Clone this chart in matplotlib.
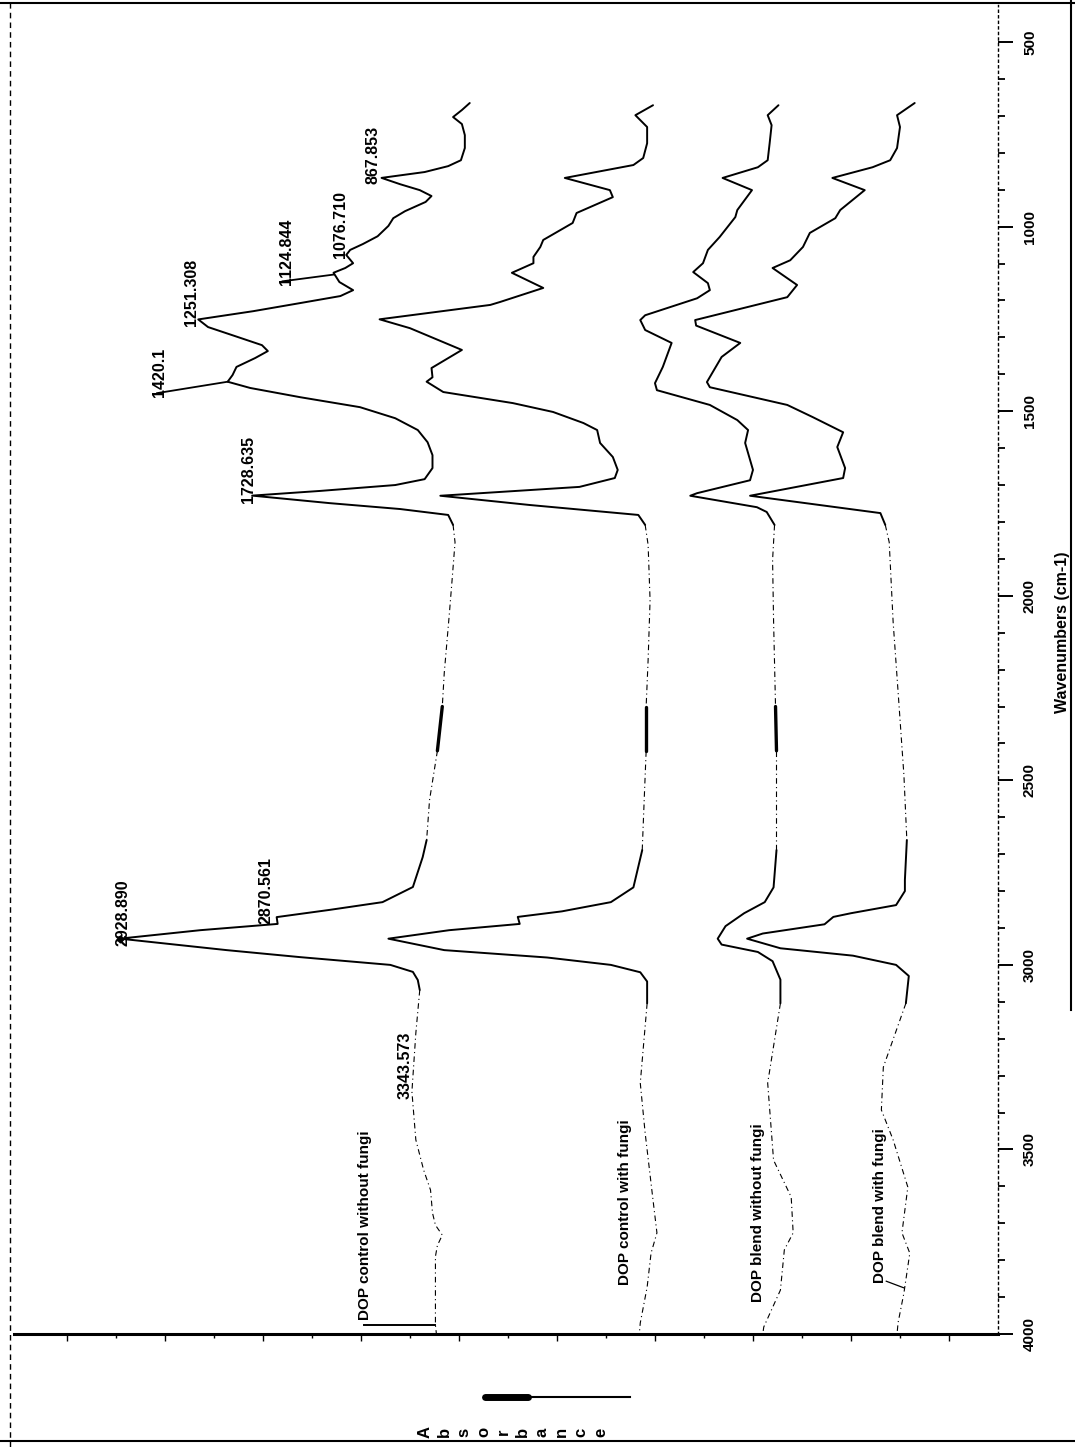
import numpy as np
import matplotlib
matplotlib.use("Agg")
import matplotlib.pyplot as plt
from matplotlib.lines import Line2D

plt.rcParams['font.family'] = ['Liberation Sans', 'DejaVu Sans']

# ---------------------------------------------------------------------------
# FTIR spectra (wavenumber in cm-1, stacked absorbance)
# ---------------------------------------------------------------------------
wn_ctrl = [665, 684, 703, 722, 752, 787, 820, 836, 852, 867.853,
           885, 901, 917, 933, 958, 977, 998, 1026, 1047, 1063,
           1076.710, 1099, 1112, 1124.844, 1150, 1172, 1188, 1207, 1229, 1251.308,
           1272, 1296, 1321, 1337, 1356, 1380, 1402, 1420.1, 1437, 1462,
           1489, 1519, 1551, 1584, 1619, 1654, 1684, 1700, 1716, 1728.635,
           1749, 1765, 1781, 1808, 1855, 1957, 2055, 2209, 2300, 2420,
           2553, 2662, 2708, 2789, 2830, 2851, 2870.561, 2889, 2906, 2928.890,
           2960, 2979, 3000, 3019, 3041, 3068, 3185, 3343.573, 3474, 3556,
           3610, 3672, 3705, 3732, 3760, 3790, 3976, 4000]
ab_ctrl = [0.539, 0.547, 0.556, 0.547, 0.544, 0.544, 0.548, 0.561, 0.585, 0.629,
           0.610, 0.590, 0.578, 0.584, 0.605, 0.617, 0.622, 0.633, 0.648, 0.661,
           0.665, 0.658, 0.666, 0.678, 0.672, 0.658, 0.671, 0.712, 0.760, 0.816,
           0.806, 0.779, 0.751, 0.745, 0.758, 0.777, 0.781, 0.786, 0.763, 0.712,
           0.651, 0.615, 0.592, 0.582, 0.577, 0.577, 0.585, 0.615, 0.692, 0.761,
           0.682, 0.610, 0.561, 0.556, 0.554, 0.557, 0.560, 0.565, 0.567, 0.572,
           0.580, 0.583, 0.587, 0.597, 0.628, 0.682, 0.736, 0.735, 0.814, 0.896,
           0.787, 0.712, 0.620, 0.597, 0.592, 0.590, 0.594, 0.598, 0.594, 0.586,
           0.579, 0.577, 0.574, 0.567, 0.572, 0.574, 0.574, 0.573]

wn_ctrl_fungi = [671, 698, 730, 774, 814, 833, 868, 901, 920, 963,
                 990, 1036, 1055, 1082, 1099, 1125, 1166, 1204, 1212, 1251,
                 1275, 1334, 1383, 1408, 1420, 1448, 1478, 1502, 1532, 1551,
                 1586, 1624, 1659, 1681, 1705, 1729, 1754, 1781, 1808, 1862,
                 2012, 2174, 2300, 2420, 2553, 2689, 2790, 2830, 2855, 2870,
                 2889, 2906, 2929, 2960, 2980, 3000, 3020, 3045, 3104, 3320,
                 3456, 3637, 3726, 3781, 3873, 3970, 4000]
ab_ctrl_fungi = [0.352, 0.370, 0.358, 0.358, 0.362, 0.372, 0.442, 0.396, 0.393, 0.430,
                 0.434, 0.464, 0.467, 0.474, 0.474, 0.496, 0.464, 0.508, 0.518, 0.631,
                 0.600, 0.547, 0.578, 0.577, 0.583, 0.566, 0.495, 0.454, 0.423, 0.409,
                 0.406, 0.393, 0.388, 0.391, 0.427, 0.569, 0.478, 0.367, 0.360, 0.357,
                 0.355, 0.357, 0.359, 0.359, 0.361, 0.363, 0.372, 0.395, 0.445, 0.490,
                 0.488, 0.560, 0.622, 0.565, 0.460, 0.395, 0.365, 0.358, 0.358, 0.365,
                 0.360, 0.352, 0.348, 0.354, 0.358, 0.365, 0.366]

wn_blend = [671, 698, 725, 774, 820, 839, 868, 901, 955, 974,
            1028, 1063, 1099, 1123, 1153, 1172, 1194, 1240, 1253, 1280,
            1315, 1380, 1424, 1443, 1483, 1524, 1551, 1586, 1659, 1687,
            1722, 1729, 1760, 1773, 1808, 1903, 2066, 2300, 2420, 2559,
            2689, 2790, 2830, 2860, 2895, 2929, 2945, 2965, 2990, 3040,
            3104, 3320, 3529, 3629, 3726, 3772, 3881, 3981, 4000]
ab_blend = [0.224, 0.235, 0.231, 0.233, 0.235, 0.245, 0.281, 0.251, 0.266, 0.268,
            0.284, 0.296, 0.301, 0.311, 0.296, 0.294, 0.307, 0.360, 0.365, 0.360,
            0.333, 0.342, 0.350, 0.348, 0.294, 0.266, 0.255, 0.258, 0.250, 0.253,
            0.307, 0.314, 0.246, 0.236, 0.228, 0.230, 0.229, 0.227, 0.226, 0.226,
            0.226, 0.229, 0.238, 0.259, 0.278, 0.286, 0.282, 0.245, 0.230, 0.222,
            0.222, 0.235, 0.229, 0.211, 0.209, 0.218, 0.222, 0.239, 0.240]

wn_blend_fungi = [665, 698, 730, 787, 820, 839, 868, 901, 955, 977,
                  1017, 1055, 1091, 1112, 1158, 1191, 1253, 1268, 1315, 1353,
                  1421, 1435, 1483, 1516, 1557, 1597, 1654, 1681, 1729, 1776,
                  1808, 1855, 2071, 2258, 2486, 2662, 2770, 2800, 2838, 2860,
                  2870, 2890, 2915, 2929, 2955, 2975, 3000, 3030, 3104, 3277,
                  3393, 3474, 3602, 3726, 3781, 3889, 3970, 4000]
ab_blend_fungi = [0.085, 0.103, 0.100, 0.103, 0.110, 0.128, 0.169, 0.136, 0.161, 0.166,
                  0.192, 0.199, 0.212, 0.230, 0.205, 0.215, 0.309, 0.308, 0.263, 0.282,
                  0.297, 0.294, 0.215, 0.189, 0.158, 0.164, 0.156, 0.158, 0.253, 0.120,
                  0.115, 0.111, 0.107, 0.102, 0.096, 0.093, 0.095, 0.095, 0.104, 0.150,
                  0.168, 0.177, 0.240, 0.256, 0.222, 0.148, 0.104, 0.091, 0.094, 0.117,
                  0.119, 0.107, 0.092, 0.098, 0.090, 0.096, 0.102, 0.103]

# trace names: (text, anchor absorbance, anchor wavenumber)
trace_names = [("DOP control without fungi", 0.639, 3962),
               ("DOP control with fungi", 0.373, 3867),
               ("DOP blend without fungi", 0.238, 3913),
               ("DOP blend with fungi", 0.113, 3862)]

# peak annotations on the control spectrum: (text, label absorbance, label wavenumber)
peak_labels = [("867.853", 0.630, 885),
               ("1076.710", 0.663, 1085),
               ("1124.844", 0.718, 1158),
               ("1251.308", 0.815, 1269),
               ("1420.1", 0.848, 1462),
               ("1728.635", 0.757, 1749),
               ("2928.890", 0.885, 2949),
               ("2870.561", 0.739, 2889),
               ("3343.573", 0.597, 3363)]

wn_ticks = [500, 1000, 1500, 2000, 2500, 3000, 3500, 4000]
wn_tick_labels = [str(t) for t in wn_ticks]

# ---------------------------------------------------------------------------
W, H = 1075, 1447
fig = plt.figure(figsize=(W / 100, H / 100), dpi=100)


def fx(px):
    return px / W


def fy(py):
    return 1 - py / H


ax = fig.add_axes([fx(14), fy(1334), fx(998) - fx(14), fy(5.2) - fy(1334)])
ax.set_xlim(1.004, 0.0)     # absorbance grows to the left
ax.set_ylim(4000, 400)      # wavenumber runs down the page

for side in ("left", "top"):
    ax.spines[side].set_visible(False)
ax.spines["right"].set_linestyle((0, (1.5, 2.5)))
ax.spines["right"].set_linewidth(1.0)
ax.spines["bottom"].set_linewidth(2.2)

ax.yaxis.tick_right()
ax.set_yticks(wn_ticks)
ax.set_yticks(np.arange(500, 4001, 100), minor=True)
ax.set_yticklabels(wn_tick_labels, rotation=90, va="center", ha="left",
                   fontsize=11, fontweight="bold")
ax.tick_params(axis="y", which="major", direction="out", length=11, width=1.4, pad=7)
ax.tick_params(axis="y", which="minor", direction="out", length=5, width=1.3)

ax.set_xticks(np.arange(0.05, 1.0, 0.1))
ax.set_xticks(np.arange(0.1, 1.0, 0.1), minor=True)
ax.tick_params(axis="x", which="major", direction="out", length=5, width=1.0,
               labelbottom=False)
ax.tick_params(axis="x", which="minor", direction="out", length=3, width=1.0)


def draw_trace(wn, ab, co2=True):
    wn = np.asarray(wn, float)
    ab = np.asarray(ab, float)
    quiet = ((wn > 1800) & (wn < 2700)) | (wn > 3060)
    seg_q = quiet[:-1] & quiet[1:]
    start = 0
    n = len(seg_q)
    for i in range(1, n + 1):
        if i == n or seg_q[i] != seg_q[start]:
            sl = slice(start, i + 1)
            if seg_q[start]:
                ax.plot(ab[sl], wn[sl], color="black", lw=0.8, ls=(0, (5, 3, 1, 3)))
            else:
                ax.plot(ab[sl], wn[sl], color="black", lw=1.4,
                        solid_capstyle="round", solid_joinstyle="round")
            start = i
    if co2:
        m = (wn >= 2300) & (wn <= 2420)
        ax.plot(ab[m], wn[m], color="black", lw=2.4, solid_capstyle="round")


draw_trace(wn_ctrl, ab_ctrl)
draw_trace(wn_ctrl_fungi, ab_ctrl_fungi)
draw_trace(wn_blend, ab_blend)
draw_trace(wn_blend_fungi, ab_blend_fungi, co2=False)

# marker on the strongest C-H band
i_ch = wn_ctrl.index(2928.890)
ax.plot(ab_ctrl[i_ch], wn_ctrl[i_ch], marker="D", ms=3.5, color="black")

# peak labels
for text, a, w in peak_labels:
    ax.text(a, w, text, rotation=90, rotation_mode="anchor", ha="left",
            va="bottom", fontsize=11.5, fontweight="bold")

# leader lines for two of the peak labels
i_1420 = wn_ctrl.index(1420.1)
ax.plot([0.858, ab_ctrl[i_1420]], [1451, wn_ctrl[i_1420]], color="black", lw=1.3)
i_1124 = wn_ctrl.index(1124.844)
ax.plot([0.730, ab_ctrl[i_1124]], [1148, wn_ctrl[i_1124] + 5], color="black", lw=1.3)

# trace names
for text, a, w in trace_names:
    ax.text(a, w, text, rotation=90, rotation_mode="anchor", ha="left",
            va="bottom", fontsize=11, fontweight="bold")
ax.plot([0.647, ab_ctrl[-2]], [3976, 3976], color="black", lw=1.4)
ax.plot([0.114, ab_blend_fungi[-3]], [3857, 3875], color="black", lw=0.9)

# axis titles
fig.text(fx(1062), fy(632), "Wavenumbers (cm-1)", rotation=90, ha="center",
         va="center", fontsize=11.5, fontweight="bold")
for k, ch in enumerate("Absorbance"):
    fig.text(fx(425 + 19.5 * k), fy(1432), ch, rotation=90, ha="center",
             va="center", fontsize=12, fontweight="bold")
fig.add_artist(Line2D([fx(485), fx(528)], [fy(1397), fy(1397)], transform=fig.transFigure,
                      color="black", lw=5, solid_capstyle="round"))
fig.add_artist(Line2D([fx(528), fx(630)], [fy(1397), fy(1397)], transform=fig.transFigure,
                      color="black", lw=1.5))

# page frame
frame = dict(transform=fig.transFigure, color="black")
fig.add_artist(Line2D([0, 1], [fy(3), fy(3)], lw=1.5, **frame))
fig.add_artist(Line2D([0, 1], [fy(1441), fy(1441)], lw=1.5, **frame))
fig.add_artist(Line2D([fx(10), fx(10)], [0, 1], lw=1.0, ls=(0, (4, 3)), **frame))
fig.add_artist(Line2D([fx(1071), fx(1071)], [fy(1010), 1], lw=1.5, **frame))

fig.savefig("out.png", dpi=100, facecolor="white")
